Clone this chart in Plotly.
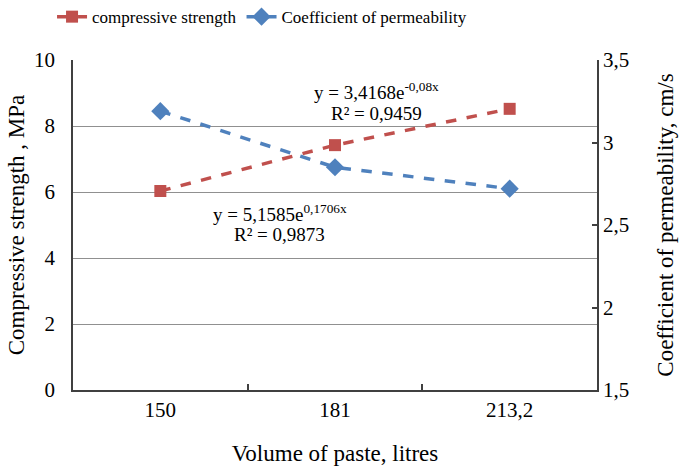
import plotly.graph_objects as go

categories = ["150", "181", "213,2"]
strength = [6.03, 7.42, 8.52]
permeability = [3.19, 2.85, 2.72]
left_ticks = [0, 2, 4, 6, 8, 10]
right_tickvals = [1.5, 2, 2.5, 3, 3.5]
right_ticktext = ["1,5", "2", "2,5", "3", "3,5"]

RED = "#C0504D"
BLUE = "#4F81BD"
FONT = "Times New Roman"

fig = go.Figure()
fig.add_trace(go.Scatter(
    x=categories, y=strength, name="compressive strength",
    mode="lines+markers",
    line=dict(color=RED, width=3.5, dash="dash"),
    marker=dict(symbol="square", size=12, color=RED),
))
fig.add_trace(go.Scatter(
    x=categories, y=permeability, name="Coefficient of permeability",
    mode="lines+markers", yaxis="y2",
    line=dict(color=BLUE, width=3.5, dash="dash"),
    marker=dict(symbol="diamond", size=14, color=BLUE),
))

ann_font = dict(family=FONT, size=19, color="#000")
annotations = [
    dict(text="y = 3,4168e<sup>-0,08x</sup>", x=0.58, y=0.906),
    dict(text="R² = 0,9459", x=0.58, y=0.839),
    dict(text="y = 5,1585e<sup>0,1706x</sup>", x=0.395, y=0.536),
    dict(text="R² = 0,9873", x=0.395, y=0.470),
]
for a in annotations:
    a.update(xref="paper", yref="paper", showarrow=False, font=ann_font,
             xanchor="center", yanchor="middle")

fig.update_layout(
    width=682, height=468,
    margin=dict(l=73, r=85, t=60, b=78, autoexpand=False),
    paper_bgcolor="white", plot_bgcolor="white",
    font=dict(family=FONT, size=20, color="#000"),
    showlegend=True,
    legend=dict(orientation="h", x=-0.04, xanchor="left", y=1.13, yanchor="middle",
                font=dict(family=FONT, size=17), itemwidth=30,
                bgcolor="rgba(0,0,0,0)", traceorder="normal"),
    annotations=annotations,
    xaxis=dict(
        type="category", range=[-0.5, 2.5],
        showline=True, linecolor="#404040", linewidth=1.5,
        ticks="inside", tickson="boundaries", ticklen=6, tickcolor="#404040", tickwidth=1.5,
        showgrid=False,
        title=dict(text="Volume of paste, litres", font=dict(size=23), standoff=24),
        tickfont=dict(size=21),
    ),
    yaxis=dict(
        range=[0, 10], tickvals=left_ticks,
        showline=True, linecolor="#404040", linewidth=1.5,
        showgrid=True, gridcolor="#909090", gridwidth=1.2,
        zeroline=False, ticks="", ticklabelstandoff=12,
        title=dict(text="Compressive strength , MPa", font=dict(size=23), standoff=3),
        tickfont=dict(size=21),
    ),
    yaxis2=dict(
        range=[1.5, 3.5], tickvals=right_tickvals, ticktext=right_ticktext,
        overlaying="y", side="right",
        showline=True, linecolor="#404040", linewidth=1.5,
        showgrid=False, zeroline=False,
        ticks="inside", ticklen=5, tickcolor="#404040", tickwidth=1.5,
        tickprefix="   ",
        title=dict(text="Coefficient of permeability, cm/s", font=dict(size=23), standoff=29),
        tickfont=dict(size=21),
    ),
)

fig.write_html("out.html")
